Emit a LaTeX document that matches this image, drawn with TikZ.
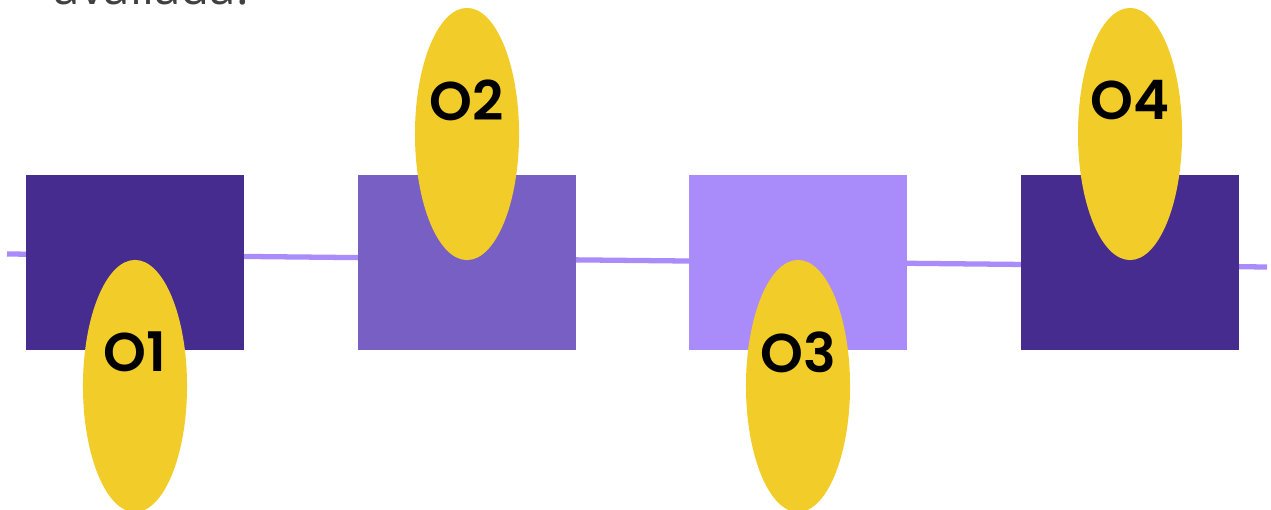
\documentclass[tikz,border=0pt]{standalone}
\usepackage{fontspec}
\setmainfont{Open Sans}
\newfontfamily\numfont{Poppins SemiBold}
\usetikzlibrary{shapes.geometric}
\definecolor{darkviolet}{HTML}{462C8E}
\definecolor{midviolet}{HTML}{785FC3}
\definecolor{lightviolet}{HTML}{A98BFA}
\definecolor{sunyellow}{HTML}{F2CD2A}
\definecolor{textgray}{HTML}{404040}
\tikzset{
  stagebox/.style={fill=#1, draw=none, minimum width=2.18cm, minimum height=1.75cm, inner sep=0pt},
  marker/.style={ellipse, fill=sunyellow, draw=none, minimum width=1.04cm, minimum height=2.52cm, inner sep=0pt},
  marktext/.style={font=\numfont\fontsize{15.5}{16}\selectfont, text=black, inner sep=0pt}
}

\begin{document}
\begin{tikzpicture}[x=0.01cm,y=-0.01cm]
\useasboundingbox (0,0) rectangle (1271,510);
\begin{scope}
\clip (0,0) rectangle (1271,510);
\node[anchor=base west, inner sep=0pt, text=textgray, font=\fontsize{13.5}{14}\selectfont] (caption) at (53,5) {avaliada.};
% timeline behind the boxes
\coordinate (lstart) at (7,254);
\coordinate (lend) at (1267,267);
\draw[lightviolet, line width=1.5pt] (lstart) -- (lend);
% stages
\node[stagebox=darkviolet] (s1) at (135,262.5) {};
\node[stagebox=midviolet] (s2) at (467,262.5) {};
\node[stagebox=lightviolet] (s3) at (798,262.5) {};
\node[stagebox=darkviolet] (s4) at (1130,262.5) {};
% yellow markers
\node[marker] (m1) at (135,386) {};
\node[marker] (m2) at (467,134) {};
\node[marker] (m3) at (798,386) {};
\node[marker] (m4) at (1130,134) {};
\node[marktext] (t1) at (135,352) {O1};
\node[marktext] (t2) at (467,100) {O2};
\node[marktext] (t3) at (798,352) {O3};
\node[marktext] (t4) at (1130,100) {O4};
\end{scope}
\end{tikzpicture}
\end{document}
